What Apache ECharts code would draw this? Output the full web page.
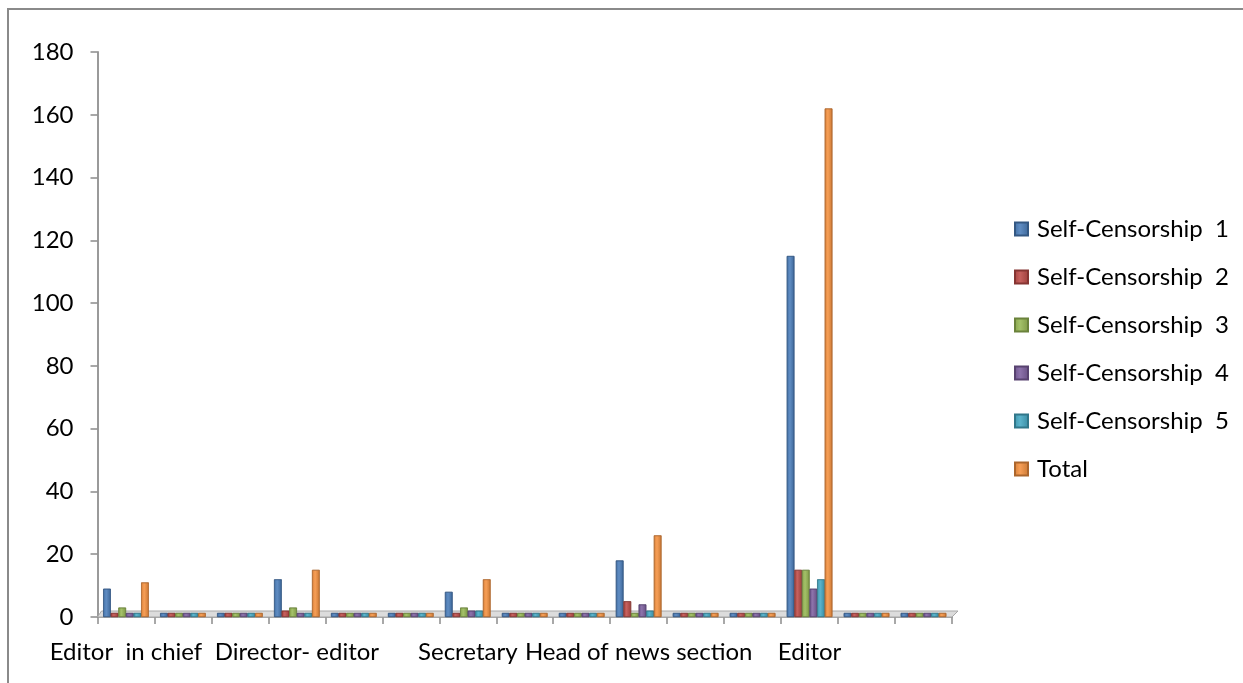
<!DOCTYPE html>
<html>
<head>
<meta charset="utf-8">
<script src="https://cdn.jsdelivr.net/npm/echarts@6/dist/echarts.min.js"></script>
<style>
html,body{margin:0;padding:0;background:#fff;}
#chart{width:1243px;height:683px;}
</style>
</head>
<body>
<div id="chart"></div>
<script>
const categories = ["Editor  in chief","","","Director- editor","","","Secretary","","","Head of news section","","","Editor","",""];
const seriesNames = ["Self-Censorship  1","Self-Censorship  2","Self-Censorship  3","Self-Censorship  4","Self-Censorship  5","Total"];
const sc1   = [9,0,0,12,0,0,8,0,0,18,0,0,115,0,0];
const sc2   = [0,0,0,2,0,0,0,0,0,5,0,0,15,0,0];
const sc3   = [3,0,0,3,0,0,3,0,0,0,0,0,15,0,0];
const sc4   = [0,0,0,0,0,0,2,0,0,4,0,0,9,0,0];
const sc5   = [0,0,0,0,0,0,2,0,0,2,0,0,12,0,0];
const total = [11,0,0,15,0,0,12,0,0,26,0,0,162,0,0];
const yTicks = {min:0, max:180, interval:20};

const colors = ["#4a7ebb","#be4b48","#98b954","#7d60a0","#46aac5","#f69240"];
const FONT = "Lato";

function shade(hex, f){
  const n = parseInt(hex.slice(1),16);
  let r=(n>>16)&255,g=(n>>8)&255,b=n&255;
  const adj = c => Math.max(0,Math.min(255,Math.round(f<0? c*(1+f) : c+(255-c)*f)));
  return "rgb("+adj(r)+","+adj(g)+","+adj(b)+")";
}
function grad(hex){
  return new echarts.graphic.LinearGradient(0,0,1,0,[
    {offset:0,color:shade(hex,-0.12)},
    {offset:0.4,color:shade(hex,0.12)},
    {offset:1,color:shade(hex,-0.18)}
  ]);
}

const dataSets = [sc1,sc2,sc3,sc4,sc5,total];
const chart = echarts.init(document.getElementById('chart'), null, {renderer:'canvas'});

const option = {
  animation:false,
  backgroundColor:'#ffffff',
  color: colors,
  grid:{left:97.5, right:291, top:52, bottom:66, containLabel:false},
  legend:{
    orient:'vertical',
    left:1014, top:205, padding:0,
    itemWidth:13, itemHeight:13, itemGap:0,
    icon:'rect',
    data: seriesNames,
    textStyle:{fontFamily:FONT, fontSize:24, color:'#000', lineHeight:48, padding:[0,0,0,4]}
  },
  xAxis:{
    type:'category',
    data:categories,
    axisLine:{lineStyle:{color:'#8c8c8c', width:1.5}},
    axisTick:{show:true, interval:0, length:7, lineStyle:{color:'#8c8c8c', width:1.5}},
    axisLabel:{interval:0, margin:23, fontFamily:FONT, fontSize:24, color:'#000'}
  },
  yAxis:{
    type:'value',
    min:yTicks.min, max:yTicks.max, interval:yTicks.interval,
    axisLine:{show:true, lineStyle:{color:'#9a9a9a', width:2}},
    axisTick:{show:true, length:7, lineStyle:{color:'#8c8c8c', width:1.5}},
    splitLine:{show:false},
    axisLabel:{margin:24, fontFamily:FONT, fontSize:24, color:'#000'}
  },
  series: dataSets.map((d,i)=>({
    name: seriesNames[i],
    type:'bar',
    data:d,
    barGap:'0%',
    barCategoryGap:'20%',
    barMinHeight:4,
    z:3,
    itemStyle:{color:grad(colors[i]), borderColor:shade(colors[i],-0.3), borderWidth:0.6}
  }))
};
chart.setOption(option);

function addDecor(){
  const p0 = chart.convertToPixel({xAxisIndex:0,yAxisIndex:0},[0,0]);
  const p1 = chart.convertToPixel({xAxisIndex:0,yAxisIndex:0},[1,0]);
  const pn = chart.convertToPixel({xAxisIndex:0,yAxisIndex:0},[categories.length-1,0]);
  const bw = p1[0]-p0[0];
  const L = p0[0]-bw/2, R = pn[0]+bw/2, Y = p0[1];
  chart.setOption({
    graphic:[
      {type:'rect', shape:{x:8,y:9,width:1400,height:900}, style:{fill:'none', stroke:'#8a8a8a', lineWidth:2}, z:0, silent:true},
      {type:'polygon', shape:{points:[[L,Y],[R,Y],[R+6,Y-6],[L+4,Y-6]]},
       style:{fill:'#dcdcdc', stroke:'#a8a8a8', lineWidth:1}, z:1, silent:true}
    ]
  });
}
addDecor();
</script>
</body>
</html>
